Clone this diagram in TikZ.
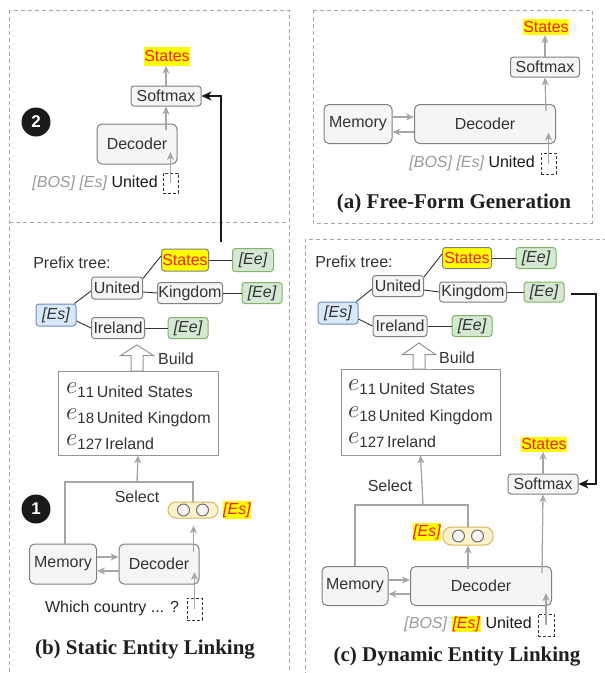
\documentclass[tikz,border=0pt]{standalone}
\usepackage{fontspec}
\setmainfont{Liberation Sans}
\newfontfamily\capfont{Liberation Serif}
\usetikzlibrary{arrows.meta,calc}
\definecolor{boxfill}{HTML}{F5F5F5}
\definecolor{boxdraw}{HTML}{808080}
\definecolor{txt}{HTML}{333333}
\definecolor{arr}{HTML}{A6A6A6}
\definecolor{framec}{HTML}{A6A6A6}
\definecolor{hl}{HTML}{FFFF00}
\definecolor{hlred}{HTML}{FF1A1A}
\definecolor{bluef}{HTML}{DAE8FC}
\definecolor{blued}{HTML}{6C8EBF}
\definecolor{greenf}{HTML}{D5E8D4}
\definecolor{greend}{HTML}{82B366}
\definecolor{ovf}{HTML}{FFF2CC}
\definecolor{ovd}{HTML}{D6B656}
\definecolor{bosc}{HTML}{9A9A9A}
\newcommand\mysz{\fontsize{16}{17}\selectfont}
\newcommand\entid[1]{\raisebox{4pt}{\fontsize{25}{25}\selectfont$e$}{\fontsize{15}{15}\selectfont$\mathrm{#1}$}}
\newcommand\hlEs{{\setlength\fboxsep{1pt}\colorbox{hl}{\color{hlred}\itshape [Es]}}}
\begin{document}
\begin{tikzpicture}[x=1pt,y=-1pt,
  box/.style={draw=boxdraw, fill=boxfill, line width=1pt, rounded corners=5pt, text=txt, font=\mysz, inner sep=0pt},
  sbox/.style={box, rounded corners=3pt},
  dims/.style 2 args={minimum width=#1, minimum height=#2},
  hlbox/.style={fill=hl, text=hlred, font=\mysz, inner sep=0pt},
  esbox/.style={sbox, fill=bluef, draw=blued, font=\mysz\itshape},
  eebox/.style={sbox, fill=greenf, draw=greend, font=\mysz\itshape, dims={40}{21}},
  stbox/.style={sbox, fill=hl, text=hlred},
  tline/.style={draw=txt, line width=0.9pt},
  gline/.style={draw=arr, line width=1.3pt},
  garrow/.style={gline, -{Stealth[length=8pt,width=7pt,inset=2.5pt]}},
  barrow/.style={draw=black!90, line width=2pt, -{Stealth[length=10pt,width=9pt,inset=3pt]}},
  dbox/.style={draw=black!80, dash pattern=on 3pt off 2pt, line width=0.9pt, inner sep=0pt},
  frm/.style={draw=framec, line width=1pt, dash pattern=on 4pt off 3pt},
  buildarr/.style={draw=arr!90!black, fill=white, line width=1pt, line join=miter},
  plaintxt/.style={font=\mysz, text=txt, inner sep=0pt},
  captxt/.style={font=\capfont\bfseries\fontsize{21}{21}\selectfont, text=black!88, inner sep=0pt},
  numc/.style={circle, fill=black!90, text=white, font=\fontsize{17}{17}\selectfont\bfseries, minimum size=29, inner sep=0pt},
  ovalbox/.style={draw=ovd, fill=ovf, line width=1pt, rounded corners=8pt, inner sep=0pt},
  dotc/.style={circle, draw=black!60, fill=boxfill, line width=0.9pt, minimum size=12, inner sep=0pt}
]
\useasboundingbox (0,0) rectangle (605,673);

% frames
\draw[frm] (9,10) rectangle (289,690);
\draw[frm] (9,222) -- (289,222);
\draw[frm] (313,10) rectangle (592,223);
\draw[frm] (305,690) -- (305,239) -- (615,239);

% ---------------- top-left (2)
\node[numc] (c2) at (36,122) {2};
\node[hlbox, dims={46}{19}] (sTL) at (167,56) {States};
\node[sbox, dims={70}{20}] (smTL) at (166,96) {Softmax};
\node[box, dims={80}{40}] (decTL) at (137,144) {Decoder};
\node[plaintxt, anchor=east, text=black!90] (inTL) at (158,183) {{\color{bosc}\itshape [BOS] [Es]} United};
\node[dbox, dims={15}{20}] (dbTL) at (170.5,183) {};
\draw[garrow] ($(decTL.north)+(29,6)$) -- (smTL.south);
\draw[garrow] (smTL.north) -- (smTL.north |- sTL.south);
\draw[garrow] (dbTL.center) -- ++(0,-31);

% ---------------- bottom-left tree
\node[plaintxt] (pfL) at (72,263) {Prefix tree:};
\node[stbox, dims={47}{22}] (stL) at (185,260) {States};
\node[eebox, dims={41}{23}] (ee1L) at (253,260) {[Ee]};
\node[sbox, dims={51}{22}] (unL) at (117,288) {United};
\node[sbox, dims={65}{21}] (kgL) at (190,293) {Kingdom};
\node[eebox] (ee2L) at (262,293) {[Ee]};
\node[esbox, dims={40}{22}] (esL) at (56,315) {[Es]};
\node[sbox, dims={53}{21}] (irL) at (118,328) {Ireland};
\node[eebox] (ee3L) at (188,328) {[Ee]};
\draw[tline] ($(esL.north east)+(-2,0)$) -- ($(unL.west)+(0,3)$);
\draw[tline] ($(esL.east)+(0,6)$) -- (irL.west);
\draw[tline] ($(unL.north east)+(0,2)$) -- ($(stL.west)+(0,-4)$);
\draw[tline] ($(unL.east)+(0,4)$) -- (kgL.west);
\draw[tline] (stL.east) -- (ee1L.west);
\draw[tline] (kgL.east) -- (ee2L.west);
\draw[tline] (irL.east) -- (ee3L.west);

\coordinate (bkL) at (221,242);
\draw[barrow] (bkL) |- (smTL.east);

\node[draw=arr!90!black, fill=white, line width=1pt, dims={160}{84}, inner sep=0pt] (entL) at (138,413) {};
\draw[buildarr] (137,345) -- (153.5,355.5) -- (143,355.5) -- (143,371) -- (131,371) -- (131,355.5) -- (120.5,355.5) -- cycle;
\node[plaintxt] (bdL) at (176,359) {Build};
\node[plaintxt, anchor=base west] (e1L) at (66,397) {\entid{11}\,United States};
\node[plaintxt, anchor=base west] (e2L) at (66,423) {\entid{18}\,United Kingdom};
\node[plaintxt, anchor=base west] (e3L) at (66,449) {\entid{127}\,Ireland};

% bottom-left lower
\node[numc] (c1) at (36,509) {1};
\node[box, dims={67}{40}] (memL) at (63,564) {Memory};
\node[box, dims={80}{40}] (decL) at (159,564) {Decoder};
\node[ovalbox, dims={50}{16}] (ovL) at (193,510) {};
\node[dotc] (d1L) at (183.5,510) {};
\node[dotc] (d2L) at (202.5,510) {};
\node[hlbox, font=\mysz\itshape, dims={28}{18}] (hesL) at (237,510) {[Es]};
\node[plaintxt] (selL) at (137,497) {Select};
\coordinate (jL) at (137,482);
\draw[gline] ($(memL.north)+(2,0)$) |- (ovL.north |- jL) -- (ovL.north);
\draw[garrow] (jL) -- (entL.south);
\draw[garrow] ($(memL.east)+(0,-7)$) -- ($(decL.west)+(0,-7)$);
\draw[garrow] ($(decL.west)+(0,7)$) -- ($(memL.east)+(0,7)$);
\draw[garrow] ($(decL.north east)+(-6,8)$) -- ++(0,-26);
\node[plaintxt, text=black!85] (qL) at (112,608) {Which country ... ?};
\node[dbox, dims={15}{22}] (dbL) at (194.5,609) {};
\draw[garrow] (dbL.center) -- ++(0,-37);
\node[captxt] (capB) at (145,650) {(b) Static Entity Linking};

% ---------------- top-right (a)
\node[hlbox, dims={46}{16}] (stA) at (546,27) {States};
\node[sbox, dims={69}{20}] (smA) at (545,67) {Softmax};
\node[box, dims={68}{39}] (memA) at (358,124) {Memory};
\node[box, dims={141}{39}] (decA) at (485,124) {Decoder};
\draw[garrow] ($(memA.east)+(0,-7)$) -- ($(decA.west)+(0,-7)$);
\draw[garrow] ($(decA.west)+(0,8)$) -- ($(memA.east)+(0,8)$);
\draw[garrow] ($(decA.north east)+(-10,7)$) -- (smA.south);
\draw[garrow] (smA.north) -- (smA.north |- stA.south);
\node[plaintxt, anchor=east, text=black!90] (inA) at (535,163) {{\color{bosc}\itshape [BOS] [Es]} United};
\node[dbox, dims={15}{21}] (dbA) at (548.5,163.5) {};
\draw[garrow] (dbA.center) -- ++(0,-31);
\node[captxt] (capA) at (454,203) {(a) Free-Form Generation};

% ---------------- bottom-right (c)
\node[plaintxt] (pfC) at (354,262) {Prefix tree:};
\node[stbox, dims={49}{21}] (stC) at (467,258) {States};
\node[eebox] (ee1C) at (536,258) {[Ee]};
\node[sbox, dims={51}{21}] (unC) at (398,286) {United};
\node[sbox, dims={67}{20}] (kgC) at (473,292) {Kingdom};
\node[eebox, dims={40}{20}] (ee2C) at (544,292) {[Ee]};
\node[esbox, dims={40}{22}] (esC) at (338,313) {[Es]};
\node[sbox, dims={54}{21}] (irC) at (400,326) {Ireland};
\node[eebox] (ee3C) at (472,326) {[Ee]};
\draw[tline] ($(esC.north east)+(-2,0)$) -- ($(unC.west)+(0,3)$);
\draw[tline] ($(esC.east)+(0,6)$) -- (irC.west);
\draw[tline] ($(unC.north east)+(0,2)$) -- ($(stC.west)+(0,-4)$);
\draw[tline] ($(unC.east)+(0,4)$) -- (kgC.west);
\draw[tline] (stC.east) -- (ee1C.west);
\draw[tline] (kgC.east) -- (ee2C.west);
\draw[tline] (irC.east) -- (ee3C.west);

\node[draw=arr!90!black, fill=white, line width=1pt, dims={159}{86}, inner sep=0pt] (entC) at (420.5,412) {};
\draw[buildarr] (419,343) -- (435.5,354.5) -- (425,354.5) -- (425,369) -- (413,369) -- (413,354.5) -- (402.5,354.5) -- cycle;
\node[plaintxt] (bdC) at (457,358) {Build};
\node[plaintxt, anchor=base west] (e1C) at (348,394) {\entid{11}\,United States};
\node[plaintxt, anchor=base west] (e2C) at (348,421) {\entid{18}\,United Kingdom};
\node[plaintxt, anchor=base west] (e3C) at (348,447) {\entid{127}\,Ireland};

\node[hlbox, dims={46}{15}] (stC2) at (544,444) {States};
\node[sbox, dims={70}{20}] (smC) at (543,484) {Softmax};
\draw[garrow] (smC.north) -- (smC.north |- stC2.south);
\coordinate (bkC) at (596,294);
\draw[barrow] ($(ee2C.east)+(6,2)$) -- (bkC) |- (smC.east);

\node[box, dims={66}{39}] (memC) at (355,586) {Memory};
\node[box, dims={141}{39}] (decC) at (481,586) {Decoder};
\node[ovalbox, dims={50}{18}] (ovC) at (468,536) {};
\node[dotc] (d1C) at (458.5,536) {};
\node[dotc] (d2C) at (477.5,536) {};
\node[hlbox, font=\mysz\itshape, dims={27}{18}] (hesC) at (427,532) {[Es]};
\node[plaintxt] (selC) at (390,486) {Select};
\coordinate (jC) at (423,505);
\draw[gline] (memC.north) |- (ovC.north |- jC) -- (ovC.north);
\draw[garrow] (jC) -- (entC.south);
\draw[garrow] ($(memC.east)+(0,-6)$) -- ($(decC.west)+(0,-6)$);
\draw[garrow] ($(decC.west)+(0,8)$) -- ($(memC.east)+(0,8)$);
\draw[garrow] ($(decC.north)+(-13,3)$) -- (ovC.south);
\draw[garrow] ($(decC.north east)+(-10,7)$) -- (smC.south);
\node[plaintxt, anchor=east, text=black!90] (inC) at (532,624) {{\color{bosc}\itshape [BOS]} \hlEs\ United};
\node[dbox, dims={16}{22}] (dbC) at (546,625) {};
\draw[garrow] (dbC.center) -- ++(0,-32);
\node[captxt] (capC) at (457,657) {(c) Dynamic Entity Linking};
\end{tikzpicture}
\end{document}
